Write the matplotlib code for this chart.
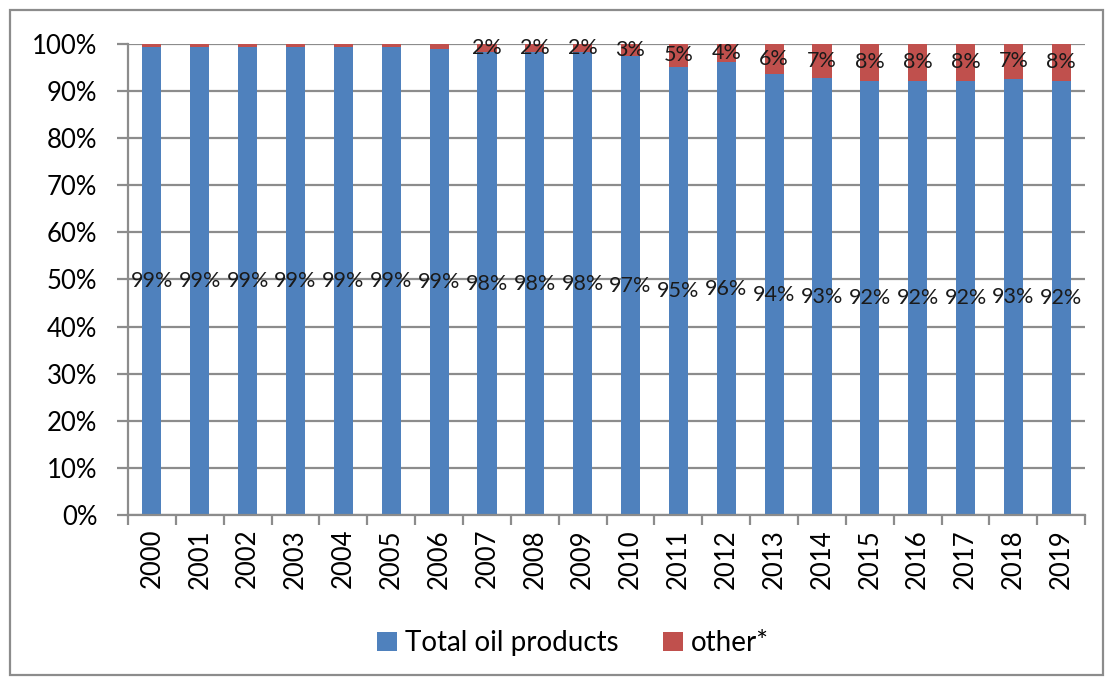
import matplotlib
matplotlib.use("Agg")
import matplotlib.pyplot as plt
import numpy as np
from matplotlib.patches import Rectangle

years = [str(y) for y in range(2000, 2020)]
oil = [99.4, 99.4, 99.4, 99.4, 99.4, 99.4, 98.8, 98.2, 98.2, 98.2, 97.4, 95.1, 96.1, 93.5, 92.7, 92.1, 92.1, 92.1, 92.5, 92.1]
other = [100 - v for v in oil]
oil_labels = ["99%"] * 7 + ["98%"] * 3 + ["97%", "95%", "96%", "94%", "93%", "92%", "92%", "92%", "93%", "92%"]
other_labels = [""] * 7 + ["2%", "2%", "2%", "3%", "5%", "4%", "6%", "7%", "8%", "8%", "8%", "7%", "8%"]

plt.rcParams['font.family'] = ['Lato', 'DejaVu Sans']

fig = plt.figure(figsize=(11.13, 6.84), dpi=100)
ax = fig.add_axes([0.115, 0.247, 0.860, 0.689])

x = np.arange(len(years))
blue = '#4f81bd'
red = '#c0504d'
ax.set_axisbelow(True)
ax.grid(axis='y', color='#8c8c8c', linewidth=1.6)
b1 = ax.bar(x, oil, width=0.4, color=blue, label='Total oil products')
b2 = ax.bar(x, other, width=0.4, bottom=oil, color=red, label='other*')

for i in x:
    ax.text(i, oil[i] / 2, oil_labels[i], ha='center', va='center', fontsize=15.5, color='#1a1a1a')
    if other_labels[i]:
        ax.text(i, oil[i] + other[i] / 2, other_labels[i], ha='center', va='center', fontsize=15.5, color='#1a1a1a')

ax.set_xlim(-0.5, len(years) - 0.5)
ax.set_ylim(0, 100)
ax.set_yticks(np.arange(0, 101, 10))
ax.set_yticklabels([f"{v}%" for v in range(0, 101, 10)], fontsize=18.5)
ax.set_xticks(x)
ax.set_xticklabels(years, rotation=90, fontsize=18.5)
ax.set_xticks(np.arange(-0.5, len(years), 1), minor=True)
ax.tick_params(axis='x', which='major', length=0, pad=10)
ax.tick_params(axis='x', which='minor', length=7, width=1.6, color='#8c8c8c', direction='out')
ax.tick_params(axis='y', length=8, width=1.6, color='#8c8c8c', pad=14)

for s in ['top', 'right']:
    ax.spines[s].set_visible(False)
for s in ['left', 'bottom']:
    ax.spines[s].set_color('#8c8c8c')
    ax.spines[s].set_linewidth(1.6)

leg = fig.legend(handles=[b1, b2], loc='center', bbox_to_anchor=(0.515, 0.06), ncol=2, frameon=False,
                 fontsize=20, handlelength=0.7, handleheight=0.7, handletextpad=0.3, columnspacing=1.6)

fig.patches.append(Rectangle((10 / 1113, 9 / 684), 1093 / 1113, 665 / 684, transform=fig.transFigure,
                             fill=False, edgecolor='#8c8c8c', linewidth=1.6))

fig.savefig('out.png', dpi=100)
